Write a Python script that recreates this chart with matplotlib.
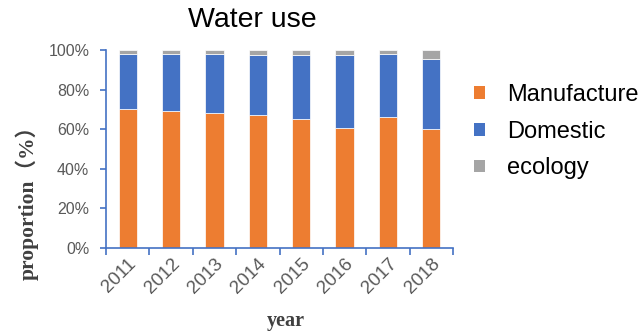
import matplotlib
matplotlib.use("Agg")
import matplotlib.pyplot as plt
import matplotlib.transforms as mtransforms
import numpy as np
from matplotlib.patches import Patch
from matplotlib.ticker import PercentFormatter, FixedLocator

years = ["2011", "2012", "2013", "2014", "2015", "2016", "2017", "2018"]
manufacture = [70.0, 69.3, 68.3, 67.2, 65.2, 60.7, 66.0, 60.3]
domestic = [28.1, 28.8, 29.8, 30.4, 32.4, 36.9, 31.8, 35.3]
ecology = [1.9, 1.9, 1.9, 2.4, 2.4, 2.4, 2.2, 4.4]

series = ["Manufacture", "Domestic", "ecology"]
colors = ["#ED7D31", "#4472C4", "#A5A5A5"]
axis_blue = "#4472C4"
label_gray = "#595959"

W, H = 643, 331
fig = plt.figure(figsize=(W / 100, H / 100), dpi=100)
ax = fig.add_axes([106 / W, 1 - 248 / H, (453 - 106) / W, (248 - 50) / H])

x = np.arange(len(years))
bottom = np.zeros(len(years))
for vals, col in zip([manufacture, domestic, ecology], colors):
    v = np.array(vals)
    ax.bar(x, v, width=0.42, bottom=bottom, color=col,
           edgecolor="white", linewidth=0.5)
    bottom += v

ax.set_xlim(-0.5, len(years) - 0.5)
ax.set_ylim(0, 100)
ax.yaxis.set_major_locator(FixedLocator([0, 20, 40, 60, 80, 100]))
ax.yaxis.set_major_formatter(PercentFormatter(decimals=0))

for s in ["top", "right"]:
    ax.spines[s].set_visible(False)
for s in ["left", "bottom"]:
    ax.spines[s].set_color(axis_blue)
    ax.spines[s].set_linewidth(1.2)

# tick marks sit between categories, labels at the bar centres
ax.set_xticks(np.arange(-0.5, len(years)), minor=False)
ax.set_xticklabels([])
ax.set_xticks(x, minor=True)
ax.set_xticklabels(years, minor=True, rotation=45, ha="right", va="top",
                   rotation_mode="anchor", fontsize=13.5, color=label_gray,
                   family="Liberation Sans")
shift = mtransforms.ScaledTranslation(-4 / 100, 0, fig.dpi_scale_trans)
for t in ax.get_xticklabels(minor=True):
    t.set_transform(t.get_transform() + shift)
ax.tick_params(axis="x", which="major", length=5, width=1.2, color=axis_blue,
               direction="out")
ax.tick_params(axis="x", which="minor", length=0, pad=5)
ax.tick_params(axis="y", length=4, width=1.2, color=axis_blue, direction="out",
               labelsize=11.5, labelcolor=label_gray, pad=8)
for t in ax.get_yticklabels():
    t.set_family("Liberation Sans")

fig.text(252 / W, 1 - 20 / H, "Water use", ha="center", va="center",
         fontsize=20.5, family="Liberation Sans", color="black")

fig.text(27 / W, 1 - 197 / H, "proportion（%）", rotation=90, ha="center",
         va="center", fontsize=15.5, fontweight="bold", color="#404040",
         family=["Liberation Serif", "Noto Sans CJK SC"])
fig.text(286 / W, 1 - 321 / H, "year", ha="center", va="center",
         fontsize=14.5, fontweight="bold", color="#404040",
         family="Liberation Serif")

handles = [Patch(facecolor=c, edgecolor="none") for c in colors]
fig.legend(handles, series, loc="upper left",
           bbox_to_anchor=(474 / W, 1 - 84 / H), frameon=False,
           prop={"family": "Liberation Sans", "size": 17},
           handlelength=0.45, handleheight=0.45, handletextpad=0.95,
           labelspacing=0.62, borderpad=0, borderaxespad=0)

fig.savefig("out.png", dpi=100)
